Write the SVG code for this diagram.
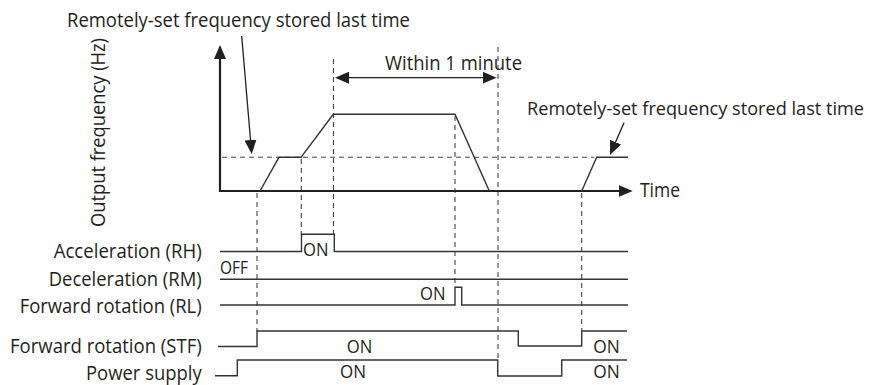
<svg xmlns="http://www.w3.org/2000/svg" width="871" height="385" viewBox="0 0 871 385">
<style>
text{font-family:"Open Sans","Liberation Sans",sans-serif;font-size:19.5px;fill:#231f20}
.lab{text-anchor:end}
.on{font-size:18px}
.note2{font-size:18px}
.ax{stroke:#231f20;stroke-width:2.2;fill:none}
.sig{stroke:#333;stroke-width:1.4;fill:none}
.dash{stroke:#444;stroke-width:1.1;stroke-dasharray:5 4;fill:none}
.ptr{stroke:#231f20;stroke-width:1.3;fill:none}
</style>
<defs>
<marker id="ah" viewBox="0 0 14 12" refX="10" refY="6" markerWidth="14" markerHeight="12" markerUnits="userSpaceOnUse" orient="auto-start-reverse">
<path d="M0,0 L14,6 L0,12 z" fill="#231f20"/>
</marker>
</defs>
<rect width="871" height="385" fill="#fff"/>

<g id="guides">
<line class="dash" x1="222" y1="157.3" x2="594" y2="157.3"/>
<line class="dash" x1="257" y1="193" x2="257" y2="331"/>
<line class="dash" x1="301.3" y1="159" x2="301.3" y2="234"/>
<line class="dash" x1="333.5" y1="59" x2="333.5" y2="234"/>
<line class="dash" x1="455" y1="116" x2="455" y2="287.3"/>
<line class="dash" x1="498" y1="47" x2="498" y2="360"/>
<line class="dash" x1="581.7" y1="193" x2="581.7" y2="331"/>
</g>

<g id="axes">
<line class="ax" x1="220" y1="192" x2="220" y2="49" marker-end="url(#ah)"/>
<line class="ax" x1="219" y1="191" x2="628.7" y2="191" marker-end="url(#ah)"/>
<text x="640" y="197" textLength="40" lengthAdjust="spacingAndGlyphs">Time</text>
<text transform="translate(105,132.5) rotate(-90)" text-anchor="middle" textLength="189" lengthAdjust="spacingAndGlyphs">Output frequency (Hz)</text>
</g>

<g id="frequency">
<polyline class="sig" points="260,191 279,157.3 301,157.3 333.3,114.3 455,114.3 489.3,191"/>
<polyline class="sig" points="581.7,191 596.7,157.3 628,157.3"/>
</g>

<g id="annotations">
<text x="67" y="27" textLength="343" lengthAdjust="spacingAndGlyphs">Remotely-set frequency stored last time</text>
<line class="ptr" x1="241.7" y1="36" x2="251.36" y2="150" marker-end="url(#ah)"/>
<text class="note2" x="527" y="115" textLength="337" lengthAdjust="spacingAndGlyphs">Remotely-set frequency stored last time</text>
<line class="ptr" x1="624" y1="122.7" x2="611.6" y2="151.3" marker-end="url(#ah)"/>
<text x="385" y="70" textLength="137" lengthAdjust="spacingAndGlyphs">Within 1 minute</text>
<line class="ptr" x1="339" y1="77.7" x2="492.7" y2="77.7" marker-start="url(#ah)" marker-end="url(#ah)"/>
</g>

<g id="sig-rh">
<text class="lab" x="201.7" y="257.7" textLength="148" lengthAdjust="spacingAndGlyphs">Acceleration (RH)</text>
<path class="sig" d="M220,251.5 H301.5 V234.3 H334.3 V251.5 H628"/>
<text class="on" x="303" y="255.5" textLength="25.5" lengthAdjust="spacingAndGlyphs">ON</text>
</g>

<g id="sig-rm">
<text class="lab" x="201.7" y="286" textLength="153" lengthAdjust="spacingAndGlyphs">Deceleration (RM)</text>
<text class="on" x="220" y="273.5" textLength="28" lengthAdjust="spacingAndGlyphs">OFF</text>
<path class="sig" d="M220,279.3 H628"/>
</g>

<g id="sig-rl">
<text class="lab" x="201.7" y="313.3" textLength="182" lengthAdjust="spacingAndGlyphs">Forward rotation (RL)</text>
<path class="sig" d="M220,305 H455 V287.3 H461.7 V305 H628"/>
<text class="on" x="420" y="299.5" textLength="25.5" lengthAdjust="spacingAndGlyphs">ON</text>
</g>

<g id="sig-stf">
<text class="lab" x="201.7" y="353.3" textLength="191.7" lengthAdjust="spacingAndGlyphs">Forward rotation (STF)</text>
<path class="sig" d="M218,346.5 H257 V331 H518.3 V346 H581.7 V331 H627"/>
<text class="on" x="346.7" y="353" textLength="25.5" lengthAdjust="spacingAndGlyphs">ON</text>
<text class="on" x="593.3" y="353" textLength="26.5" lengthAdjust="spacingAndGlyphs">ON</text>
</g>

<g id="sig-power">
<text class="lab" x="201.7" y="380" textLength="115.7" lengthAdjust="spacingAndGlyphs">Power supply</text>
<path class="sig" d="M215,375.8 H237.3 V360 H497.7 V376 H561.7 V360 H627"/>
<text class="on" x="340" y="377.5" textLength="26" lengthAdjust="spacingAndGlyphs">ON</text>
<text class="on" x="593.3" y="377.5" textLength="26.5" lengthAdjust="spacingAndGlyphs">ON</text>
</g>
</svg>
